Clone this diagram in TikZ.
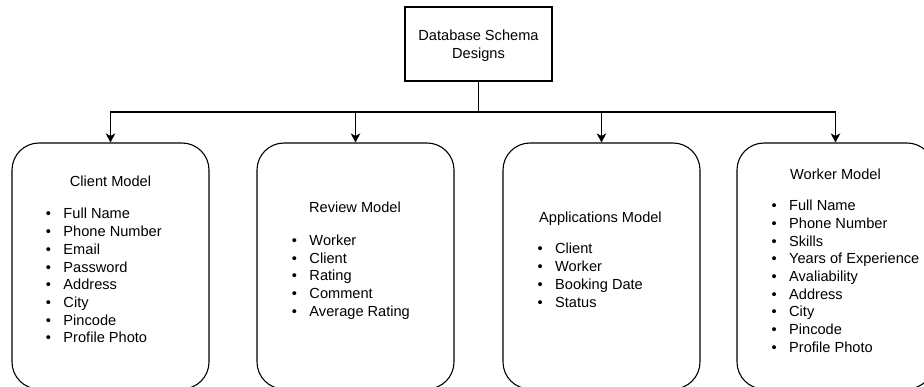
\documentclass[tikz,border=0pt]{standalone}
\usepackage{fontspec}
\setmainfont{Liberation Sans}
\usetikzlibrary{arrows.meta}
\begin{document}
\begin{tikzpicture}[
  x=1pt, y=-1pt,
  txt/.style={font=\fontsize{14.6}{17.67}\selectfont, text=black},
  frame/.style={draw=black, line width=1.1pt},
  rootbox/.style={frame, minimum width=147pt, minimum height=74pt, inner sep=0pt},
  modelbox/.style={frame, rounded corners=27pt, minimum width=197pt, minimum height=246pt, inner sep=0pt},
  title/.style={txt, anchor=base, inner sep=0pt},
  entry/.style={txt, anchor=base west, inner sep=0pt},
  link/.style={draw=black, line width=1.1pt, -{Stealth[length=9pt, width=9.5pt, inset=2.5pt]}},
]
\useasboundingbox (0,0) rectangle (924,387);

% root
\node[rootbox] (db) at (478.5,44) {};
\node[title] (dbT1) at (478.5,41) {Database Schema};
\node[title] (dbT2) at (478.5,58.7) {Designs};

% model frames (bottom edges run just past the page)
\node[modelbox] (client) at (110.5,266) {};
\node[modelbox] (review) at (355.5,266) {};
\node[modelbox] (apps)   at (601.5,266) {};
\node[modelbox] (worker) at (835.5,266) {};

% bulleted entry
\newcommand{\bul}[1]{\llap{\textbullet\hspace{12.5pt}}#1}

% Client Model
\node[title] (clientT) at (110.5,187) {Client Model};
\foreach \t [count=\i from 0] in {Full Name, Phone Number, Email, Password, Address, City, Pincode, Profile Photo}
  \node[entry] (client\i) at (63.3,219+17.67*\i) {\bul{\t}};

% Review Model
\node[title] (reviewT) at (355,212.7) {Review Model};
\foreach \t [count=\i from 0] in {Worker, Client, Rating, Comment, Average Rating}
  \node[entry] (review\i) at (309.3,245.5+17.67*\i) {\bul{\t}};

% Applications Model
\node[title] (appsT) at (600.5,222.6) {Applications Model};
\foreach \t [count=\i from 0] in {Client, Worker, Booking Date, Status}
  \node[entry] (apps\i) at (555,254+17.67*\i) {\bul{\t}};

% Worker Model
\node[title] (workerT) at (835.5,179.2) {Worker Model};
\foreach \t [count=\i from 0] in {Full Name, Phone Number, Skills, Years of Experience, Avaliability, Address, City, Pincode, Profile Photo}
  \node[entry] (worker\i) at (789,210.8+17.67*\i) {\bul{\t}};

% connectors from the root to each model
\coordinate (bus) at (478.5,112);
\foreach \m in {client, review, apps, worker}
  \draw[link] (db.south) -- (bus) -| (\m.north);
\end{tikzpicture}
\end{document}
